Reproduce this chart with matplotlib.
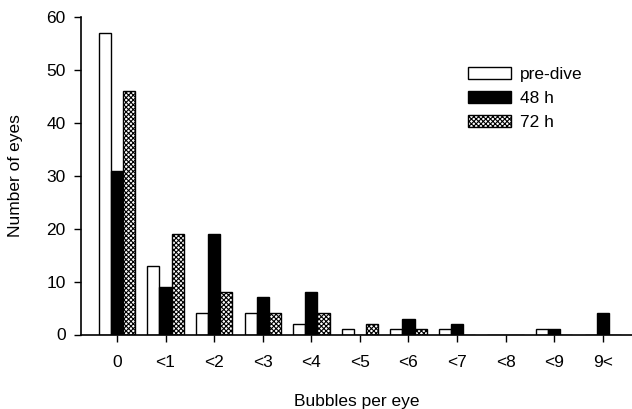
import matplotlib
matplotlib.use("Agg")
import matplotlib.pyplot as plt
import numpy as np

plt.rcParams['font.family'] = ['Liberation Sans', 'DejaVu Sans']
plt.rcParams['hatch.linewidth'] = 0.8

categories = ['0', '<1', '<2', '<3', '<4', '<5', '<6', '<7', '<8', '<9', '9<']
pre_dive = [57, 13, 4, 4, 2, 1, 1, 1, 0, 1, 0]
h48 = [31, 9, 19, 7, 8, 0, 3, 2, 0, 1, 4]
h72 = [46, 19, 8, 4, 4, 2, 1, 0, 0, 0, 0]
yticks = [0, 10, 20, 30, 40, 50, 60]

fs = 12.5
fig = plt.figure(figsize=(6.32, 4.09), dpi=100)
ax = fig.add_axes([81/632, (409-334.5)/409, (632-81)/632, (334.5-17.3)/409])

x = np.arange(len(categories))
w = 0.25
lw = 1.0
ax.bar(x - w, pre_dive, w, color='white', edgecolor='black', linewidth=lw, label='pre-dive')
ax.bar(x, h48, w, color='black', edgecolor='black', linewidth=lw, label='48 h')
ax.bar(x + w, h72, w, color='white', edgecolor='black', linewidth=lw, hatch='xxxxxxx', label='72 h')

ax.set_xlim(-0.74, 10.6)
ax.set_ylim(0, 60)
ax.set_xticks(x)
ax.set_xticklabels(categories)
ax.set_yticks(yticks)
ax.tick_params(axis='both', labelsize=fs, length=5, width=1, direction='out', colors='black')
ax.tick_params(axis='x', pad=10)
ax.tick_params(axis='y', pad=6)
for s in ['top', 'right']:
    ax.spines[s].set_visible(False)
for s in ['left', 'bottom']:
    ax.spines[s].set_linewidth(1.2)

ax.set_xlabel('Bubbles per eye', fontsize=fs, labelpad=17)
ax.set_ylabel('Number of eyes', fontsize=fs, labelpad=17)

leg = ax.legend(loc='upper left', bbox_to_anchor=(468/632, 1 - 67/409),
                bbox_transform=fig.transFigure, frameon=False, fontsize=fs,
                handlelength=2.47, handleheight=0.69, handletextpad=0.5,
                labelspacing=0.52, borderpad=0, borderaxespad=0)

fig.savefig('out.png', dpi=100)
